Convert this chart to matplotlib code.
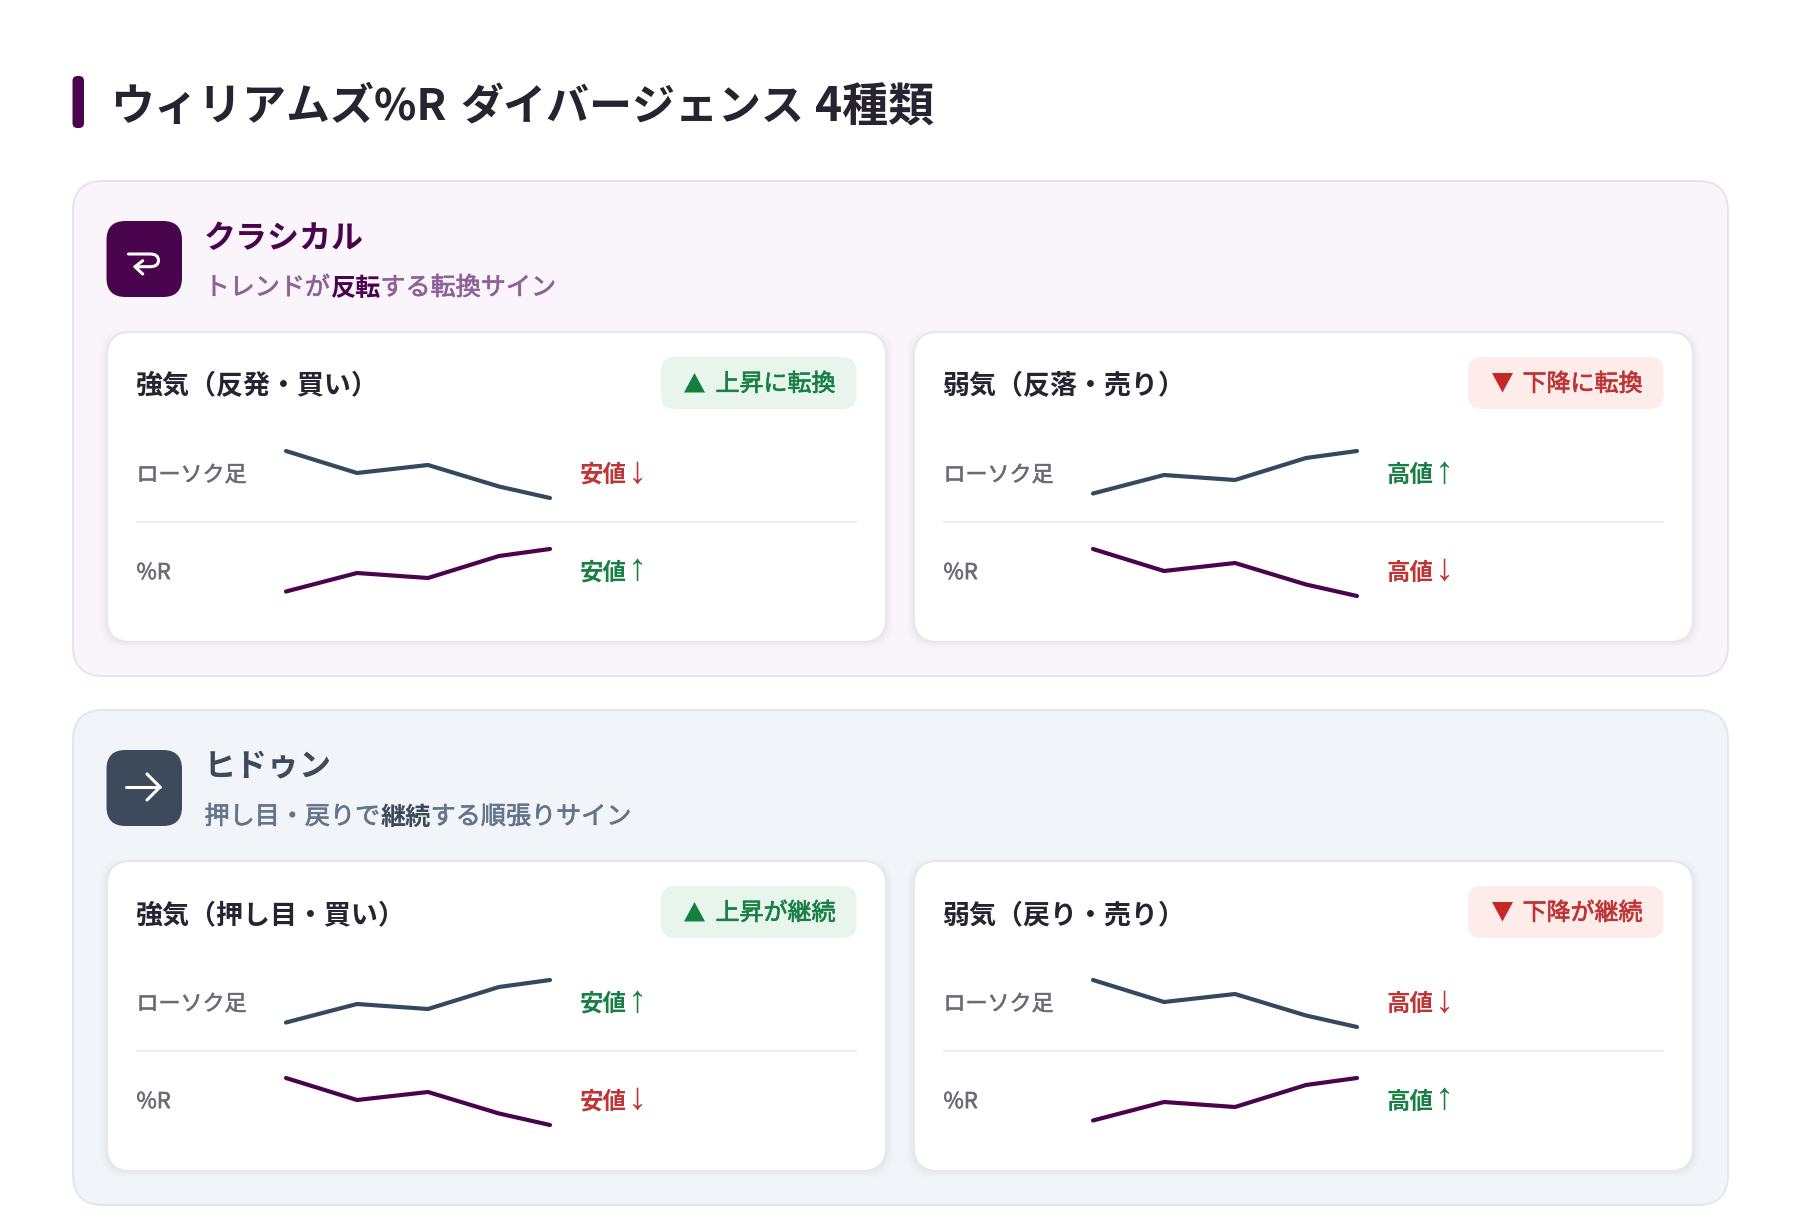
import matplotlib
matplotlib.use('Agg')
import matplotlib.pyplot as plt
import matplotlib.patheffects as pe
from matplotlib.patches import FancyBboxPatch, Polygon, PathPatch
from matplotlib.path import Path

plt.rcParams['font.family'] = ['Noto Sans CJK JP', 'DejaVu Sans']

W, H = 1800, 1230

# sparkline data
step_x = [0, 71, 142, 213, 264]
falling = [47, 25, 33, 11.5, 0]
rising = [4.5, 23, 18, 40, 47]

title_parts = ['ウィリアムズ%R', 'ダイバージェンス', '4種類']
section_names = ['クラシカル', 'ヒドゥン']
section_subs = [('トレンドが', '反転', 'する転換サイン'), ('押し目・戻りで', '継続', 'する順張りサイン')]
card_titles = [['強気（反発・買い）', '弱気（反落・売り）'], ['強気（押し目・買い）', '弱気（戻り・売り）']]
badges = [['上昇に転換', '下降に転換'], ['上昇が継続', '下降が継続']]
row_labels = ['ローソク足', '%R']
value_labels = [[['安値', '安値'], ['高値', '高値']], [['安値', '安値'], ['高値', '高値']]]
candle_lines = [[falling, rising], [rising, falling]]
rsi_lines = [[rising, falling], [falling, rising]]
value_dirs = [[['down', 'up'], ['up', 'down']], [['up', 'down'], ['down', 'up']]]

PURPLE = '#4a044e'
SLATE = '#3d4a5c'
CANDLE = '#34495e'
GREEN = '#15803d'
RED = '#c62828'
SOFT_GREEN = '#1a7f45'
SOFT_RED = '#bf3434'
DARK = '#272330'
GRAY = '#6b6b76'

section_style = [
    {'bg': '#faf5fb', 'edge': '#ecdff0', 'icon': PURPLE, 'name': PURPLE, 'sub': '#8f6199', 'strong': PURPLE},
    {'bg': '#f1f5f9', 'edge': '#e2e6ee', 'icon': SLATE, 'name': SLATE, 'sub': '#64748b', 'strong': SLATE},
]

fig = plt.figure(figsize=(W / 100, H / 100), dpi=100, facecolor='white')
ax = fig.add_axes([0, 0, 1, 1])
ax.set_xlim(0, W)
ax.set_ylim(H, 0)
ax.axis('off')


def fs(px):
    return px * 0.72


def rbox(x0, y0, x1, y1, r, fc, ec='none', lw=0, **kw):
    p = FancyBboxPatch((x0, y0), x1 - x0, y1 - y0, boxstyle=f'round,pad=0,rounding_size={r}',
                       fc=fc, ec=ec, lw=lw, **kw)
    ax.add_patch(p)
    return p


def put(x, y, s, size, color, weight='normal', ha='left', thick=0):
    t = ax.text(x, y, s, fontsize=fs(size), color=color, fontweight=weight, ha=ha, va='center_baseline')
    if thick:
        # no medium weight installed, so thicken the regular one a little
        t.set_path_effects([pe.withStroke(linewidth=thick, foreground=color)])
    return t


def put_run(x, y, parts, size):
    # parts placed one after the other, measured with the renderer
    rend = fig.canvas.get_renderer()
    for s, color, weight, thick in parts:
        t = put(x, y, s, size, color, weight, thick=thick)
        x = t.get_window_extent(rend).x1


def return_icon(cx, cy, color='white'):
    verts = [(cx - 15.5, cy - 9), (cx + 6, cy - 9), (cx + 14.5, cy - 9), (cx + 14.5, cy - 2.5),
             (cx + 14.5, cy + 3.7), (cx + 6, cy + 3.7), (cx - 9, cy + 3.7)]
    codes = [Path.MOVETO, Path.LINETO, Path.CURVE3, Path.CURVE3, Path.CURVE3, Path.CURVE3, Path.LINETO]
    ax.add_patch(PathPatch(Path(verts, codes), fc='none', ec=color, lw=2.2, capstyle='round'))
    ax.plot([cx - 1.3, cx - 9, cx - 1.3], [cy - 2.3, cy + 3.7, cy + 11], color=color, lw=2.2,
            solid_capstyle='round', solid_joinstyle='round')


def right_icon(cx, cy, color='white'):
    ax.plot([cx - 18, cx + 16], [cy, cy], color=color, lw=2.2, solid_capstyle='round')
    ax.plot([cx + 3, cx + 16, cx + 3], [cy - 13, cy, cy + 13], color=color, lw=2.2,
            solid_capstyle='round', solid_joinstyle='round')


def spark(x0, y0, values, color):
    a = fig.add_axes([x0 / W, 1 - (y0 + 47) / H, 264 / W, 47 / H])
    a.plot(step_x, values, color=color, lw=3.0, solid_capstyle='round', solid_joinstyle='round', clip_on=False)
    a.set_xlim(0, 264)
    a.set_ylim(0, 47)
    a.axis('off')
    a.patch.set_alpha(0)


# heading
rbox(72.5, 76, 84, 128, 5, PURPLE)
put(110, 102.5, title_parts[0], 44, DARK, 'bold')
put(460, 102.5, title_parts[1], 43, DARK, 'bold')
put(815, 102.5, title_parts[2], 46, DARK, 'bold')

sec_y = [180, 709]
card_x = [107, 914]
for s in range(2):
    st = section_style[s]
    y = sec_y[s]
    rbox(73, y + 1, 1728, y + 496, 30, st['bg'], st['edge'], 1.4)
    rbox(106.5, y + 41, 182, y + 117, 19, st['icon'])
    if s == 0:
        return_icon(144, y + 83)
    else:
        right_icon(144, y + 78)
    put(204, y + 55, section_names[s], 32, st['name'], 'bold')
    a, b, c = section_subs[s]
    put_run(204.5, y + 105, [(a, st['sub'], 'normal', 0.5), (b, st['strong'], 'bold', 0),
                             (c, st['sub'], 'normal', 0.5)], 25.1)

    for k in range(2):
        x = card_x[k]
        cy = y + 152
        # soft shadow under the card
        for grow, al in [(7, 0.008), (5, 0.012), (3, 0.018), (1, 0.025)]:
            rbox(x - grow, cy + 4 - grow, x + 779 + grow, cy + 310 + grow, 24, 'black', alpha=al)
        rbox(x, cy, x + 779, cy + 310, 24, 'white', '#e8e6ee', 1.4)
        put(x + 28.5, cy + 51, card_titles[s][k], 27, DARK, 'bold')

        col = GREEN if k == 0 else RED
        bg = '#e8f5ec' if k == 0 else '#fdecea'
        rbox(x + 554, cy + 25, x + 749.5, cy + 77, 14, bg)
        # badge triangle
        tx = x + 577 if k == 0 else x + 578
        if k == 0:
            ax.add_patch(Polygon([(tx, cy + 60.5), (tx + 21, cy + 60.5), (tx + 10.5, cy + 41)], fc=col, ec='none'))
        else:
            ax.add_patch(Polygon([(tx, cy + 41), (tx + 21, cy + 41), (tx + 10.5, cy + 60.5)], fc=col, ec='none'))
        put(x + 608.5, cy + 50, badges[s][k], 24, SOFT_GREEN if k == 0 else SOFT_RED, 'normal', thick=0.5)

        ax.plot([x + 29.5, x + 749], [cy + 190, cy + 190], color='#eeeef1', lw=1.4)

        for r in range(2):
            ry = cy + 141 + r * 97.6
            put(x + 29.5, ry, row_labels[r], 22, GRAY, 'normal', thick=0.4)
            d = value_dirs[s][k][r]
            vc = SOFT_GREEN if d == 'up' else SOFT_RED
            put(x + 473, ry - 0.6, value_labels[s][k][r], 23.5, vc, 'bold')
            ax.text(x + 530, ry - 0.6, '↑' if d == 'up' else '↓', fontsize=fs(38), color=vc,
                    family='Liberation Sans', ha='center', va='center')
            vals = candle_lines[s][k] if r == 0 else rsi_lines[s][k]
            spark(x + 179, cy + 119 + r * 98, vals, CANDLE if r == 0 else PURPLE)

fig.savefig('out.png', dpi=100, facecolor='white')
